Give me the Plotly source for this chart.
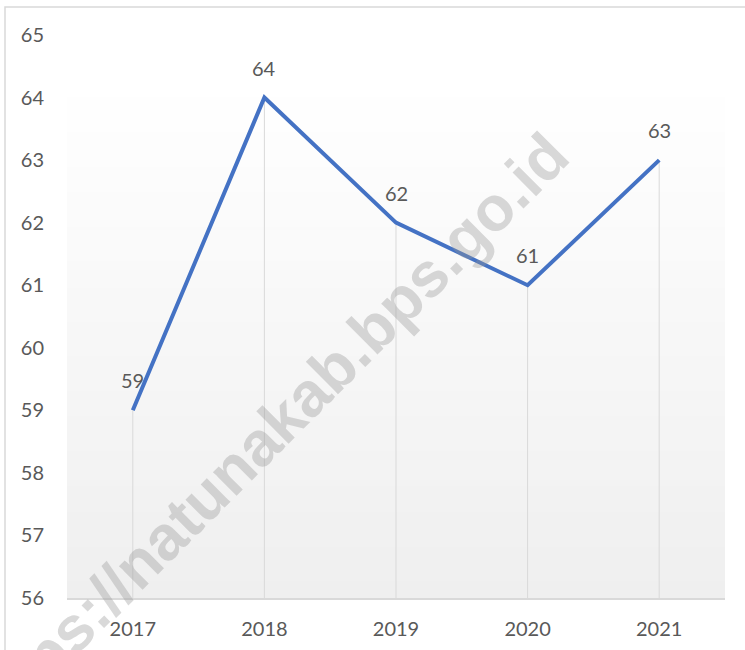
import plotly.graph_objects as go

years = ["2017", "2018", "2019", "2020", "2021"]
values = [59, 64, 62, 61, 63]
y_ticks = [56, 57, 58, 59, 60, 61, 62, 63, 64, 65]

W, H = 745, 650
ML, MR, MT, MB = 67, 20, 35, 52
pw, ph = W - ML - MR, H - MT - MB

fig = go.Figure()

# drop lines from each point to the axis
dx, dy = [], []
for c, v in zip(years, values):
    dx += [c, c, None]
    dy += [v, y_ticks[0], None]
fig.add_trace(go.Scatter(x=dx, y=dy, mode="lines",
                         line=dict(color="#d9d9d9", width=1),
                         hoverinfo="skip", showlegend=False))

fig.add_trace(go.Scatter(x=years, y=values, mode="lines",
                         line=dict(color="#4472C4", width=4),
                         showlegend=False))

shapes = []
# vertical gradient in plot area (white at top -> light gray at bottom)
n = 60
top_frac = 0.92
for i in range(n):
    y0 = top_frac * i / n
    y1 = top_frac * (i + 1) / n
    t = i / (n - 1)
    g = int(round(239 + (255 - 239) * t))
    shapes.append(dict(type="rect", xref="paper", yref="paper",
                       x0=0, x1=1, y0=y0, y1=y1 + 0.002, layer="below",
                       line=dict(width=0), fillcolor=f"rgb({g},{g},{g})"))
# outer chart border
shapes.append(dict(type="rect", xref="paper", yref="paper",
                   x0=(5 - ML) / pw, x1=(W + 10 - ML) / pw,
                   y0=-0.3, y1=(H - MB - 7) / ph,
                   line=dict(color="#d9d9d9", width=1.5), layer="below",
                   fillcolor="rgba(0,0,0,0)"))

annotations = []
for i, v in enumerate(values):
    annotations.append(dict(x=i, y=v, xref="x", yref="y", text=str(v),
                            showarrow=False, xanchor="center", yanchor="middle",
                            yshift=30,
                            font=dict(family="Lato", size=20, color="#595959")))

annotations.append(dict(xref="paper", yref="paper",
                        x=(266 - ML) / pw, y=(H - MB - 435) / ph,
                        xanchor="center", yanchor="middle",
                        text="<b>https://natunakab.bps.go.id</b>", showarrow=False,
                        textangle=-45,
                        font=dict(family="Liberation Sans", size=63,
                                  color="rgba(150,150,150,0.36)")))

fig.update_layout(
    width=W, height=H,
    margin=dict(l=ML, r=MR, t=MT, b=MB, autoexpand=False),
    paper_bgcolor="white", plot_bgcolor="white",
    shapes=shapes, annotations=annotations,
    font=dict(family="Lato", size=20, color="#595959"),
    xaxis=dict(type="category", showgrid=False, zeroline=False,
               showline=True, linecolor="#d9d9d9", linewidth=1.5,
               ticks="outside", ticklen=12, tickcolor="rgba(0,0,0,0)",
               tickfont=dict(family="Lato", size=20, color="#595959"),
               range=[-0.5, 4.5], fixedrange=True, automargin=False),
    yaxis=dict(range=[56, 65], tickvals=y_ticks, showgrid=False,
               zeroline=False, showline=False,
               ticks="outside", ticklen=18, tickcolor="rgba(0,0,0,0)",
               tickfont=dict(family="Lato", size=20, color="#595959"),
               fixedrange=True, automargin=False),
)

fig.write_html("out.html", config={"displayModeBar": False},
               post_script="document.body.style.margin='0';")
